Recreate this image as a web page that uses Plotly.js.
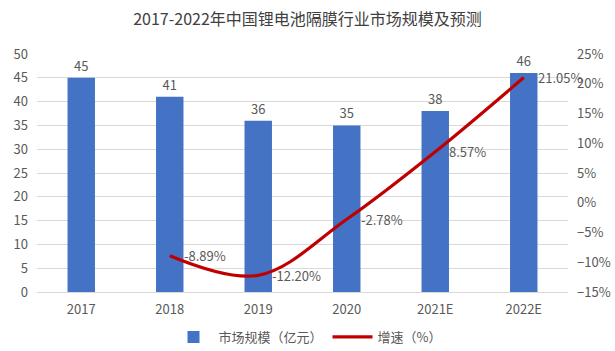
<!DOCTYPE html>
<html>
<head>
<meta charset="utf-8">
<script src="https://cdn.plot.ly/plotly-3.0.1.min.js"></script>
<style>html,body{margin:0;padding:0;background:#fff;}#chart{width:615px;height:351px;}</style>
</head>
<body>
<div id="chart"></div>
<script>
const categories = ['2017', '2018', '2019', '2020', '2021E', '2022E'];
const marketSize = [45, 41, 36, 35, 38, 46];
const growthCategories = ['2018', '2019', '2020', '2021E', '2022E'];
const growthRate = [-8.89, -12.20, -2.78, 8.57, 21.05];
const growthLabels = ['-8.89%', '-12.20%', '-2.78%', '8.57%', '21.05%'];

const FONT = '"Noto Sans CJK SC", "Noto Sans", sans-serif';
const GREY = '#595959';

const traces = [
  {
    type: 'bar', name: '市场规模（亿元）', x: categories, y: marketSize,
    marker: {color: '#4472C4'}, width: 0.31,
    text: marketSize.map(String), textposition: 'outside', cliponaxis: false,
    textfont: {family: FONT, size: 13, color: GREY},
    hoverinfo: 'skip'
  },
  {
    type: 'scatter', mode: 'lines', name: '增速（%）', x: growthCategories, y: growthRate,
    yaxis: 'y2', line: {color: '#C00000', width: 3.2, shape: 'spline', smoothing: 1},
    hoverinfo: 'skip'
  }
];

const annotations = growthCategories.map((c, i) => ({
  x: categories.indexOf(c), y: growthRate[i], xref: 'x', yref: 'y2',
  text: growthLabels[i], showarrow: false, xanchor: 'left', yanchor: 'middle',
  xshift: 12, font: {family: FONT, size: 13, color: GREY}
}));

const layout = {
  width: 615, height: 351,
  margin: {l: 37, r: 47, t: 54, b: 59},
  paper_bgcolor: '#fff', plot_bgcolor: '#fff',
  font: {family: FONT, size: 13, color: GREY},
  title: {text: '2017-2022年中国锂电池隔膜行业市场规模及预测', x: 0.5, xanchor: 'center', y: 0.945, yanchor: 'middle',
          font: {family: FONT, size: 16, color: '#404040'}},
  xaxis: {type: 'category', categoryorder: 'array', categoryarray: categories, range: [-0.5, categories.length - 0.5],
          showgrid: false, showline: true, linecolor: '#d9d9d9', ticks: '', ticklabelstandoff: 5,
          tickfont: {family: FONT, size: 13, color: GREY}, automargin: false},
  yaxis: {range: [0, 50], dtick: 5, showgrid: true, gridcolor: '#d9d9d9', zeroline: false, showline: false,
          ticks: '', tickfont: {family: FONT, size: 13, color: GREY}, ticklabelstandoff: 8, automargin: false},
  yaxis2: {range: [-15, 25], dtick: 5, overlaying: 'y', side: 'right', showgrid: false, zeroline: false,
           ticksuffix: '%', ticks: '', tickfont: {family: FONT, size: 13, color: GREY}, ticklabelstandoff: 8, automargin: false},
  legend: {orientation: 'h', x: 0.5, xanchor: 'center', xref: 'container', y: 0.04, yanchor: 'middle', yref: 'container',
           font: {family: FONT, size: 13, color: GREY}, traceorder: 'normal', itemwidth: 40},
  annotations: annotations,
  showlegend: true
};

Plotly.newPlot('chart', traces, layout, {displayModeBar: false, staticPlot: true});
</script>
</body>
</html>
